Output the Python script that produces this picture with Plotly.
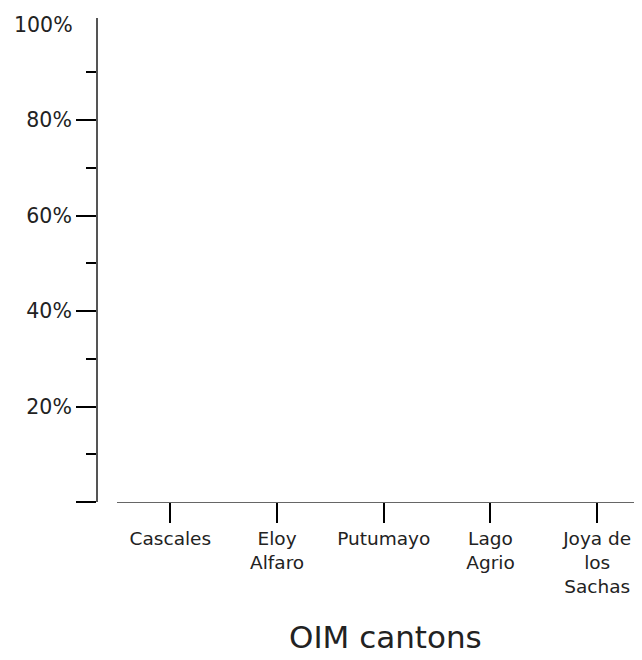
import plotly.graph_objects as go

categories = ["Cascales", "Eloy Alfaro", "Putumayo", "Lago Agrio", "Joya de los Sachas"]
tick_labels = ["Cascales", "Eloy<br>Alfaro", "Putumayo", "Lago<br>Agrio", "Joya de<br>los<br>Sachas"]
values = [None, None, None, None, None]
y_ticks = [0, 20, 40, 60, 80]
y_tick_text = ["", "20%", "40%", "60%", "80%"]
x_title = "OIM cantons"

FONT = "DejaVu Sans"
TXT = "#222222"

fig = go.Figure()
fig.add_trace(go.Bar(x=categories, y=values, marker_color="#4c78a8", showlegend=False))

fig.update_layout(
    width=634, height=652,
    margin=dict(l=89, r=0, t=10, b=158),
    paper_bgcolor="white", plot_bgcolor="white",
    font=dict(family=FONT, color=TXT),
    bargap=0.3,
)

fig.update_xaxes(
    type="category",
    categoryorder="array", categoryarray=categories,
    tickmode="array", tickvals=categories, ticktext=tick_labels,
    range=[-0.5, 4.42],
    domain=[0.0367, 1],
    showline=True, linecolor="#666666", linewidth=1,
    ticks="outside", ticklen=20, tickwidth=2, tickcolor="black",
    tickfont=dict(family=FONT, size=18.5, color=TXT),
    showgrid=False, zeroline=False,
)

fig.update_yaxes(
    range=[0, 101.4],
    anchor="free", position=0,
    tickmode="array", tickvals=y_ticks, ticktext=y_tick_text,
    showline=True, linecolor="#555555", linewidth=2,
    ticks="outside", ticklen=20, tickwidth=2, tickcolor="black",
    tickfont=dict(family=FONT, size=20.5, color=TXT),
    minor=dict(tickvals=[10, 30, 50, 70, 90], ticks="outside", ticklen=10, tickwidth=2, tickcolor="black"),
    showgrid=False, zeroline=False,
)

fig.add_annotation(
    text="100%", xref="paper", yref="y", x=-0.04, y=100,
    xanchor="right", yanchor="middle", showarrow=False,
    font=dict(family=FONT, size=20.5, color=TXT),
)

fig.add_annotation(
    text=x_title, xref="paper", yref="paper", x=0.530, y=-0.279,
    xanchor="center", yanchor="middle", showarrow=False,
    font=dict(family=FONT, size=31, color=TXT),
)

fig.write_html("out.html")
